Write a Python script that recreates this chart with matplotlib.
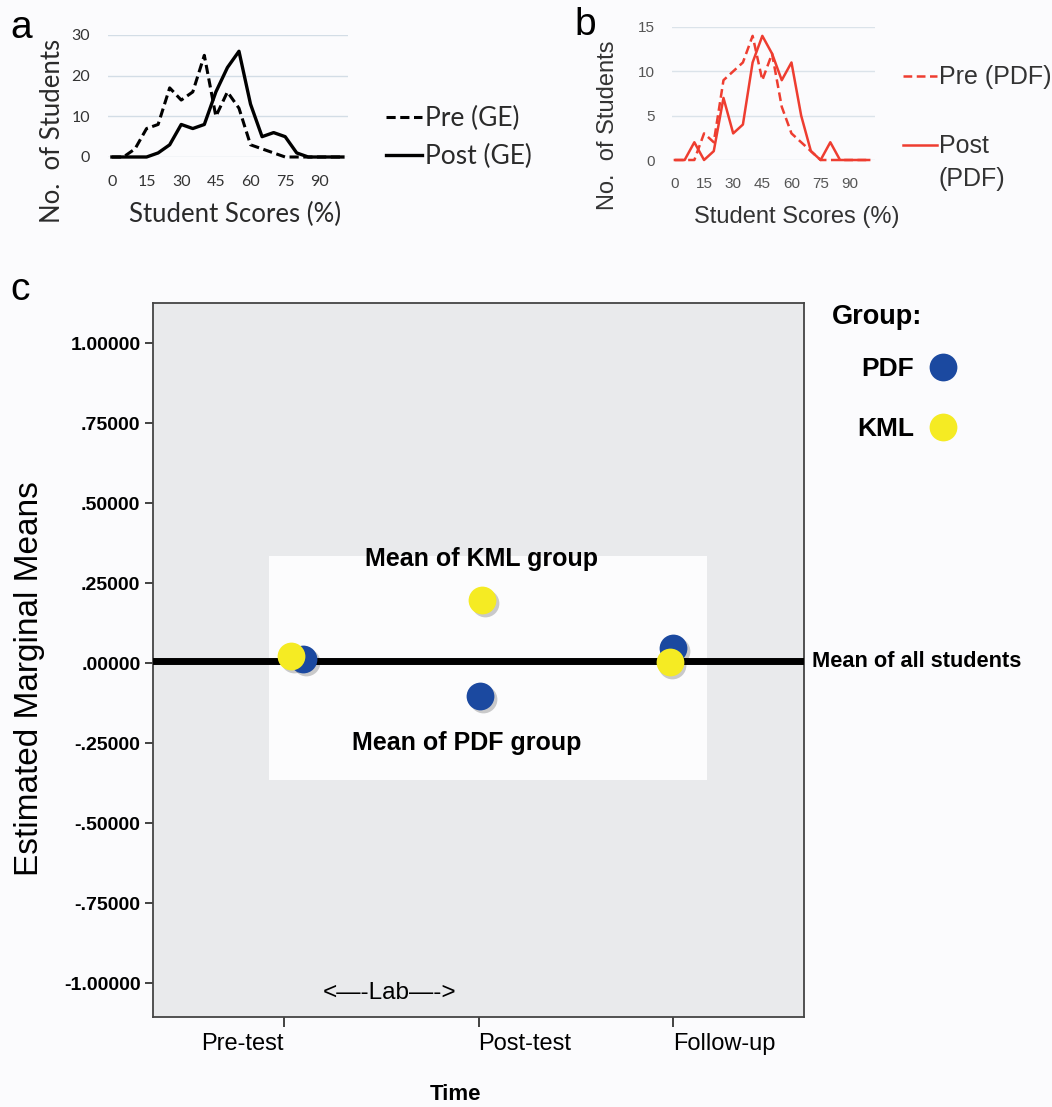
import matplotlib
matplotlib.use("Agg")
import matplotlib.pyplot as plt
import matplotlib.patches as mpatches
from matplotlib.lines import Line2D
from matplotlib.transforms import offset_copy

W, H = 1052, 1107

# ── Panels a / b: score distributions (counts per 5 % bin) ─────────────────────
score_bins = [0, 5, 10, 15, 20, 25, 30, 35, 40, 45, 50,
              55, 60, 65, 70, 75, 80, 85, 90, 95, 100]
score_ticks = [0, 15, 30, 45, 60, 75, 90]

ge_pre = [0, 0, 2, 7, 8, 17, 14, 16, 25, 10, 16, 12, 3, 2, 1, 0, 0, 0, 0, 0, 0]
ge_post = [0, 0, 0, 0, 1, 3, 8, 7, 8, 16, 22, 26, 13, 5, 6, 5, 1, 0, 0, 0, 0]

pdf_pre = [0, 0, 0, 3, 2, 9, 10, 11, 14, 9, 12, 6, 3, 2, 1, 0, 0, 0, 0, 0, 0]
pdf_post = [0, 0, 2, 0, 1, 7, 3, 4, 11, 14, 12, 9, 11, 5, 1, 0, 2, 0, 0, 0, 0]

# ── Panel c: estimated marginal means ──────────────────────────────────────────
time_labels = ["Pre-test", "Post-test", "Follow-up"]
time_pos = [0, 1, 2]
pdf_x = [0.10, 1.01, 2.00]
pdf_means = [0.012, -0.103, 0.048]
kml_x = [0.04, 1.02, 1.98]
kml_means = [0.022, 0.196, 0.004]
overall_mean = 0.005

emm_ticks = [1.0, 0.75, 0.5, 0.25, 0.0, -0.25, -0.5, -0.75, -1.0]
emm_labels = ["1.00000", ".75000", ".50000", ".25000", ".00000",
              "-.25000", "-.50000", "-.75000", "-1.00000"]

BLUE = "#1b49a0"
YELLOW = "#f5eb23"
RED = "#ee3d30"
BG = "#fbfbfd"


def px_axes(fig, left, top, right, bottom):
    return fig.add_axes([left / W, 1 - bottom / H, (right - left) / W, (bottom - top) / H])


def fx(x):
    return x / W


def fy(y):
    return 1 - y / H


fig = plt.figure(figsize=(W / 100, H / 100), dpi=100)
fig.patch.set_facecolor(BG)

# ── Panel a ────────────────────────────────────────────────────────────────────
fa = ["Lato", "DejaVu Sans"]
ax_a = px_axes(fig, 108, 35, 348, 157)
ax_a.set_facecolor(BG)
ax_a.plot(score_bins, ge_pre, color="black", lw=2.2, ls=(0, (3, 1.5)),
          clip_on=False, label="Pre (GE)")
ax_a.plot(score_bins, ge_post, color="black", lw=2.4, clip_on=False, label="Post (GE)")
ax_a.set_xlim(-1.7, 102.2)
ax_a.set_ylim(0, 30)
ax_a.set_yticks([0, 10, 20, 30])
ax_a.set_xticks(score_ticks)
ax_a.grid(axis="y", color="#d3dde6", lw=1.0)
ax_a.set_axisbelow(True)
for s in ax_a.spines.values():
    s.set_visible(False)
ax_a.tick_params(length=0, labelsize=11.5, colors="#333333", pad=13)
for t in ax_a.get_xticklabels() + ax_a.get_yticklabels():
    t.set_family(fa)
ax_a.set_xlabel("Student Scores (%)", fontsize=18.5, family=fa, color="#2a2a2a")
ax_a.xaxis.set_label_coords(0.529, -0.467)
ax_a.xaxis.label.set_va("center")
ax_a.set_ylabel("No.  of Students", fontsize=18.5, family=fa, color="#2a2a2a")
ax_a.yaxis.set_label_coords(-0.233, 0.213)
ax_a.yaxis.label.set_va("center")
ax_a.legend(loc="center left", bbox_to_anchor=(1.16, 0.16), frameon=False,
            prop={"family": fa, "size": 19}, handlelength=1.35, handletextpad=0.1,
            labelspacing=0.5, borderpad=0, borderaxespad=0, labelcolor="#2a2a2a")

# ── Panel b ────────────────────────────────────────────────────────────────────
fb = ["Liberation Sans", "DejaVu Sans"]
ax_b = px_axes(fig, 672, 27, 875, 160)
ax_b.set_facecolor(BG)
ax_b.plot(score_bins, pdf_pre, color=RED, lw=1.8, ls=(0, (3.5, 1.8)),
          clip_on=False, label="Pre (PDF)")
ax_b.plot(score_bins, pdf_post, color=RED, lw=1.8, clip_on=False, label="Post")
ax_b.set_xlim(-1.5, 103)
ax_b.set_ylim(0, 15)
ax_b.set_yticks([0, 5, 10, 15])
ax_b.set_xticks(score_ticks)
ax_b.grid(axis="y", color="#dbe3ea", lw=1.0)
ax_b.set_axisbelow(True)
for s in ax_b.spines.values():
    s.set_visible(False)
ax_b.tick_params(length=0, labelsize=11, colors="#555555", pad=12)
for t in ax_b.get_xticklabels() + ax_b.get_yticklabels():
    t.set_family(fb)
ax_b.set_xlabel("Student Scores (%)", fontsize=17, family=fb, color="#333333")
ax_b.xaxis.set_label_coords(0.616, -0.429)
ax_b.xaxis.label.set_va("center")
ax_b.set_ylabel("No.  of Students", fontsize=17, family=fb, color="#333333")
ax_b.yaxis.set_label_coords(-0.315, 0.263)
ax_b.yaxis.label.set_va("center")
ax_b.legend(loc="center left", bbox_to_anchor=(1.138, 0.361), frameon=False,
            prop={"family": fb, "size": 18}, handlelength=1.35, handletextpad=0.1,
            labelspacing=1.8, borderpad=0, borderaxespad=0, labelcolor="#333333")
fig.text(fx(938), fy(179), "(PDF)", fontsize=18, family=fb, color="#333333",
         ha="left", va="center")

# ── Panel c ────────────────────────────────────────────────────────────────────
fc = ["Liberation Sans", "DejaVu Sans"]
ax_c = px_axes(fig, 153, 303, 804, 1017)
ax_c.set_facecolor("#e9eaec")
ax_c.set_xlim(-0.67, 2.67)
ax_c.set_ylim(-1.106, 1.125)

ax_c.add_patch(mpatches.Rectangle((-0.077, -0.366), 2.251, 0.70,
                                  facecolor="#fcfcfd", edgecolor="none", zorder=1))
ax_c.axhline(overall_mean, color="black", lw=5, zorder=3)

shadow = offset_copy(ax_c.transData, fig=fig, x=2.5, y=-3, units="dots")
for xs, ys, col in [(pdf_x, pdf_means, BLUE), (kml_x, kml_means, YELLOW)]:
    ax_c.plot(xs, ys, ls="none", marker="o", ms=20, mfc="black", mec="none",
              alpha=0.2, transform=shadow, zorder=4)
    ax_c.plot(xs, ys, ls="none", marker="o", ms=20, mfc=col, mec="none", zorder=5)

ax_c.set_yticks(emm_ticks, emm_labels)
ax_c.set_xticks(time_pos, time_labels)
for lab, ha in zip(ax_c.get_xticklabels(), ["right", "left", "left"]):
    lab.set_ha(ha)
ax_c.tick_params(axis="y", length=6, width=1.3, pad=3, labelsize=14, color="#333333")
ax_c.tick_params(axis="x", length=7.5, width=1.3, pad=4, labelsize=17, color="#333333")
for t in ax_c.get_yticklabels():
    t.set_family(fc)
    t.set_weight("bold")
for t in ax_c.get_xticklabels():
    t.set_family(fc)
for s in ax_c.spines.values():
    s.set_color("#444444")
    s.set_linewidth(1.3)

ax_c.set_ylabel("Estimated Marginal Means", fontsize=24, family=fc)
ax_c.yaxis.set_label_coords(-0.19, 0.474)
ax_c.yaxis.label.set_va("center")
ax_c.set_xlabel("Time", fontsize=16, family=fc, weight="bold")
ax_c.xaxis.set_label_coords(0.464, -0.109)
ax_c.xaxis.label.set_va("center")

ax_c.text(1.015, 0.325, "Mean of KML group", ha="center", va="center",
          fontsize=18, weight="bold", family=fc, zorder=6)
ax_c.text(0.94, -0.25, "Mean of PDF group", ha="center", va="center",
          fontsize=18, weight="bold", family=fc, zorder=6)
ax_c.text(0.544, -1.03, "<\u2014-Lab\u2014->", ha="center", va="center",
          fontsize=17.5, family=fc, zorder=6)
ax_c.annotate("Mean of all students", xy=(1, overall_mean),
              xycoords=("axes fraction", "data"), xytext=(6, 0),
              textcoords="offset points", ha="left", va="center",
              fontsize=15.7, weight="bold", family=fc, annotation_clip=False)

# group legend
fig.text(fx(832), fy(317), "Group:", fontsize=19.5, weight="bold", family=fc,
         ha="left", va="center")
handles = [Line2D([], [], ls="none", marker="o", ms=20, mfc=BLUE, mec="none"),
           Line2D([], [], ls="none", marker="o", ms=20, mfc=YELLOW, mec="none")]
fig.legend(handles, ["PDF", "KML"], loc="center left",
           bbox_to_anchor=(fx(857), fy(399)), bbox_transform=fig.transFigure,
           markerfirst=False, frameon=False, prop={"family": fc, "size": 19, "weight": "bold"},
           handlelength=1.0, handletextpad=0.6, labelspacing=1.35, borderpad=0,
           borderaxespad=0)

# panel letters
for x, y, s in [(10, 28, "a"), (574, 25, "b"), (10, 290, "c")]:
    fig.text(fx(x), fy(y), s, fontsize=28, family=fc, ha="left", va="center")

fig.savefig("out.png", dpi=100, facecolor=BG)
